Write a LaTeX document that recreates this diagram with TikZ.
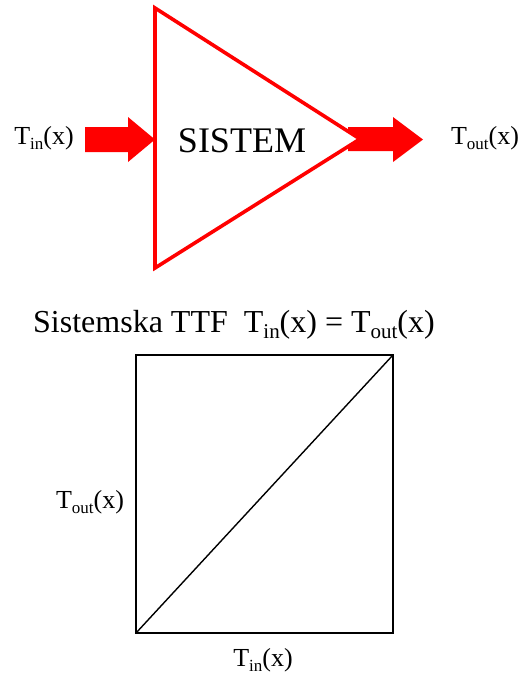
\documentclass[tikz,border=0pt]{standalone}
\usepackage{fontspec}
\setmainfont{Liberation Serif}
\newcommand\subtx[2]{\raisebox{-0.2em}{\fontsize{#1}{#1}\selectfont #2}}
\tikzset{
  lbl/.style={inner sep=0pt, anchor=base, font=\fontsize{26}{30}\selectfont},
  ttl/.style={inner sep=0pt, anchor=base, font=\fontsize{32}{36}\selectfont},
  sys/.style={draw=red, line width=3.6pt, line join=miter},
  blk/.style={fill=red, draw=none},
  frame/.style={draw=black, line width=1.8pt},
  diag/.style={draw=black, line width=1.4pt}
}
\begin{document}
\begin{tikzpicture}[x=1pt,y=-1pt]
\useasboundingbox (0,0) rectangle (520,675);
% input block arrow
\fill[blk] (85,127) -- (128,127) -- (128,117) -- (155,139.5) -- (128,162) -- (128,152) -- (85,152) -- cycle;
% output block arrow
\fill[blk] (348,127) -- (393,127) -- (393,117) -- (423,139.5) -- (393,162) -- (393,151) -- (348,151) -- cycle;
% system triangle
\coordinate (ta) at (155,8);
\coordinate (tb) at (155,268);
\coordinate (tc) at (360,139);
\draw[sys, fill=white] (ta) -- (tb) -- (tc) -- cycle;
\node[inner sep=0pt, anchor=base, font=\fontsize{36}{40}\selectfont] (sys) at (242,152) {SISTEM};
\node[lbl] (tin) at (44,144) {T\subtx{17}{in}(x)};
\node[lbl] (tout) at (485,144) {T\subtx{17}{out}(x)};
% title
\node[ttl] (title) at (234,332) {Sistemska TTF\ \ T\subtx{21}{in}(x) = T\subtx{21}{out}(x)};
% transfer function box
\coordinate (bl) at (136,633);
\coordinate (tr) at (393,355);
\draw[frame] (bl) rectangle (tr);
\draw[diag] (bl) -- (tr);
\node[lbl] (yl) at (90,508) {T\subtx{17}{out}(x)};
\node[lbl] (xl) at (263,666) {T\subtx{17}{in}(x)};
\end{tikzpicture}
\end{document}
